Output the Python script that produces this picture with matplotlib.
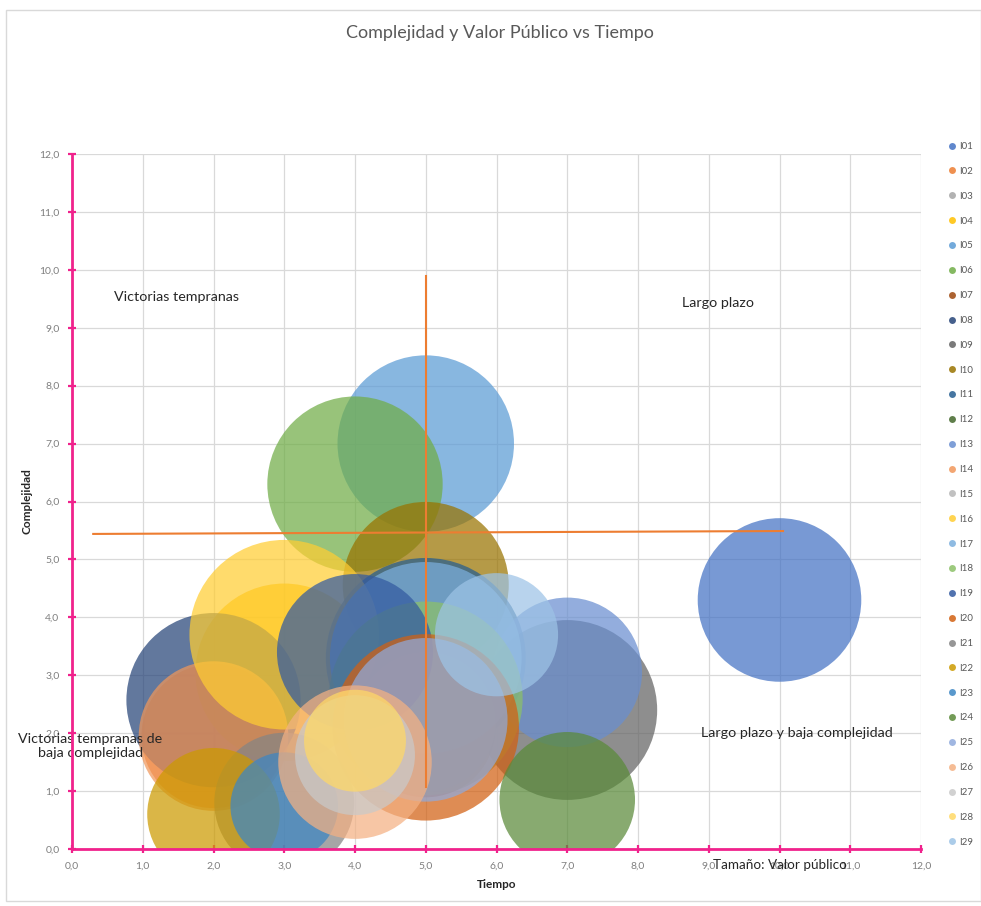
import matplotlib
matplotlib.use('Agg')
import matplotlib.pyplot as plt
from matplotlib.lines import Line2D
from matplotlib.patches import Rectangle
from matplotlib.ticker import FuncFormatter, MultipleLocator

plt.rcParams['font.family'] = ['Lato', 'DejaVu Sans']

# ---------------- data ----------------
series = ['I01', 'I02', 'I03', 'I04', 'I05', 'I06', 'I07', 'I08', 'I09', 'I10',
          'I11', 'I12', 'I13', 'I14', 'I15', 'I16', 'I17', 'I18', 'I19', 'I20',
          'I21', 'I22', 'I23', 'I24', 'I25', 'I26', 'I27', 'I28', 'I29']
tiempo = [10, 2, 5, 3, 5, 4, 5, 2, 7, 5,
          5, 5, 7, 2, 5, 3, 5, 5, 4, 5,
          3, 2, 3, 7, 5, 4, 4, 4, 6]
complejidad = [4.3, 1.95, 2.2, 3.05, 7.0, 6.3, 2.1, 2.57, 2.4, 4.56,
               3.3, 2.2, 3.05, 1.95, 2.2, 3.7, 3.3, 2.6, 3.4, 2.1,
               0.8, 0.6, 0.74, 0.85, 2.23, 1.5, 1.62, 1.87, 3.7]
valor = [6.7, 5.2, 4.9, 7.9, 7.8, 7.7, 4.9, 7.6, 8.1, 6.9,
         10.0, 4.9, 5.6, 5.6, 4.9, 9.0, 9.2, 9.4, 6.1, 8.7,
         4.9, 4.4, 2.9, 4.6, 6.7, 5.9, 3.6, 2.6, 3.8]
colores = ['#4472C4', '#ED7D31', '#A5A5A5', '#FFC000', '#5B9BD5', '#70AD47',
           '#9E480E', '#264478', '#636363', '#997300', '#255E91', '#43682B',
           '#698ED0', '#F1975A', '#B7B7B7', '#FFCD33', '#7CAFDD', '#8CC168',
           '#335AA1', '#D26012', '#848484', '#CC9A00', '#3C86C3', '#5A8A39',
           '#8FAADC', '#F4B183', '#C9C9C9', '#FFD966', '#9DC3E6']

# quadrant cross lines (Tiempo, Complejidad)
cruz_v_x = [5.0, 5.0]
cruz_v_y = [1.07, 9.9]
cruz_h_x = [0.3, 10.05]
cruz_h_y = [5.44, 5.49]

titulo = 'Complejidad y Valor Público vs Tiempo'
cuadrantes = [
    ('Victorias tempranas', 1.47, 9.53),
    ('Largo plazo', 9.13, 9.43),
    ('Victorias tempranas de\nbaja complejidad', 0.26, 1.78),
    ('Largo plazo y baja complejidad', 10.25, 2.0),
]

SIZE_SCALE = 2070.0
ALPHA = 0.72
PINK = '#F0228C'

# ---------------- figure ----------------
fig = plt.figure(figsize=(9.81, 9.06), dpi=100)
fig.patch.set_facecolor('white')
fig.patches.append(Rectangle((6 / 981, 5 / 906), 1 - 6 / 981, 1 - 15 / 906,
                             transform=fig.transFigure, fill=False,
                             edgecolor='#D9D9D9', lw=1.0))

ax = fig.add_axes([72 / 981, 1 - 849 / 906, (921 - 72) / 981, (849 - 154) / 906])
ax.set_xlim(0, 12)
ax.set_ylim(0, 12)
ax.set_axisbelow(True)
ax.grid(True, color='#D9D9D9', lw=0.9)
ax.xaxis.set_major_locator(MultipleLocator(1))
ax.yaxis.set_major_locator(MultipleLocator(1))
fmt = FuncFormatter(lambda v, p: f'{v:.1f}'.replace('.', ','))
ax.xaxis.set_major_formatter(fmt)
ax.yaxis.set_major_formatter(fmt)

for side in ['top', 'right']:
    ax.spines[side].set_visible(False)
for side in ['left', 'bottom']:
    ax.spines[side].set_color(PINK)
    ax.spines[side].set_linewidth(2.0)
    ax.spines[side].set_zorder(100)
ax.tick_params(axis='both', direction='inout', length=6, width=1.6, color=PINK,
               labelsize=7.5, labelcolor='#7F7F7F', pad=6)

for i, name in enumerate(series):
    ax.scatter([tiempo[i]], [complejidad[i]], s=[valor[i] * SIZE_SCALE],
               color=colores[i], alpha=ALPHA, edgecolors='none',
               zorder=2 + i * 0.01)

ax.plot(cruz_v_x, cruz_v_y, color='#ED7D31', lw=1.5, zorder=5)
ax.plot(cruz_h_x, cruz_h_y, color='#ED7D31', lw=1.5, zorder=5)

for txt, x, y in cuadrantes:
    ax.text(x, y, txt, fontsize=10.3, color='#262626', ha='center', va='center',
            multialignment='center', zorder=6, clip_on=False, linespacing=1.2)

ax.text(9.06, -0.28, 'Tamaño: Valor público', fontsize=9.7, color='#262626',
        ha='left', va='center', clip_on=False, zorder=6)

ax.set_xlabel('Tiempo', fontsize=8.5, fontweight='bold', color='#262626')
ax.xaxis.set_label_coords(0.5, -0.043)
ax.set_ylabel('Complejidad', fontsize=8.5, fontweight='bold', color='#262626')
ax.yaxis.set_label_coords(-0.046, 0.5)

fig.text(0.51, 1 - 33 / 906, titulo, fontsize=13, color='#595959',
         ha='center', va='center')

handles = [Line2D([0], [0], marker='o', linestyle='none', markersize=5,
                  markerfacecolor=c, markeredgecolor='none', alpha=0.85)
           for c in colores]
fig.legend(handles, series, loc='upper left',
           bbox_to_anchor=(948 / 981, 1 - 142 / 906), frameon=False,
           fontsize=7, labelcolor='#595959', handlelength=0.8,
           handletextpad=0.3, labelspacing=1.63, borderpad=0, borderaxespad=0)

fig.savefig('out.png', dpi=100, facecolor='white')
